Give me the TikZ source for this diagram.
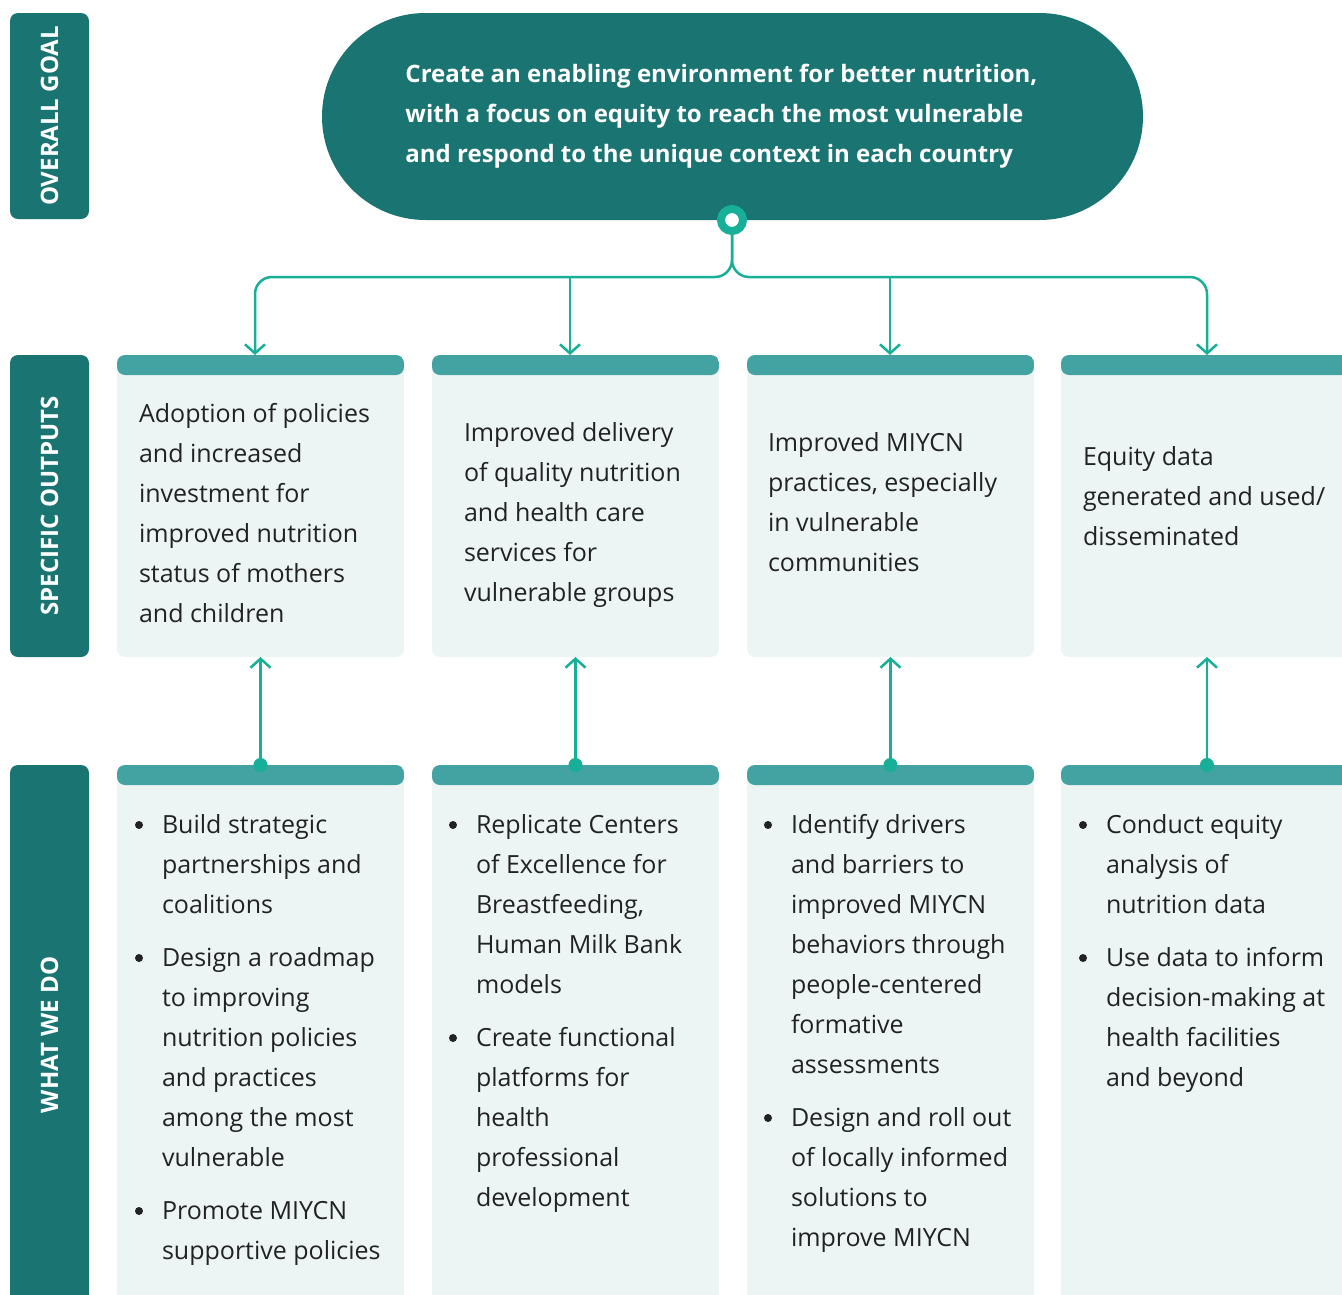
\documentclass[tikz,border=0pt]{standalone}
\usepackage{fontspec}
\setmainfont{Open Sans}
\usetikzlibrary{arrows.meta}
\definecolor{dark}{HTML}{1A7472}
\definecolor{head}{HTML}{42A3A2}
\definecolor{body}{HTML}{EDF5F4}
\definecolor{conn}{HTML}{17AF97}
\definecolor{ink}{HTML}{222222}
\tikzset{
  side/.style={fill=dark, rounded corners=8pt, rotate=90, minimum height=79pt, inner sep=0pt, outer sep=0pt,
    text=white, font=\bfseries\fontsize{24}{24}\selectfont},
  card/.style={fill=body, rounded corners=8pt, minimum width=287pt, inner sep=0pt, outer sep=0pt, anchor=north west,
    path picture={\fill[head] (path picture bounding box.north west) rectangle ([yshift=-20pt]path picture bounding box.north east);}},
  txt/.style={anchor=north west, inner sep=0pt, outer sep=0pt, align=left, text=ink, font=\fontsize{25}{40}\selectfont},
  cn/.style={draw=conn, line width=2.5pt},
  tip/.style={-{Straight Barb[length=9pt,width=20pt]}},
  bulletdot/.style={fill=ink},
}
\begin{document}
\begin{tikzpicture}[x=1pt,y=-1pt]
\useasboundingbox (0,0) rectangle (1342,1294);
\clip (0,0) rectangle (1342,1294);

% side labels
\node[side, minimum width=206pt] (s1) at (49.5,116) {OVERALL GOAL};
\node[side, minimum width=302pt] (s2) at (49.5,506) {SPECIFIC OUTPUTS};
\node[side, minimum width=540pt] (s3) at (49.5,1035) {WHAT WE DO};

% goal
\node[fill=dark, rounded corners=103.5pt, minimum width=821pt, minimum height=207pt, inner sep=0pt, outer sep=0pt,
  text=white, align=left, font=\bfseries\fontsize{24}{40}\selectfont] (goal) at (732.5,116.5)
  {Create an enabling environment for better nutrition,\hspace*{22pt}\\with a focus on equity to reach the most vulnerable\\and respond to the unique context in each country};
\node[circle, draw=conn, line width=8pt, fill=white, minimum size=22pt, inner sep=0pt] (hub) at (732,220) {};

% output cards
\node[card, minimum height=302pt] (o1) at (117,355) {};
\node[card, minimum height=302pt] (o2) at (432,355) {};
\node[card, minimum height=302pt] (o3) at (747,355) {};
\node[card, minimum height=302pt, minimum width=292pt] (o4) at (1061,355) {};

% what we do cards
\node[card, minimum height=560pt] (w1) at (117,765) {};
\node[card, minimum height=560pt] (w2) at (432,765) {};
\node[card, minimum height=560pt] (w3) at (747,765) {};
\node[card, minimum height=560pt, minimum width=292pt] (w4) at (1061,765) {};

% connectors from goal
\coordinate (j1) at (255,277);
\coordinate (j2) at (570,277);
\coordinate (j3) at (890,277);
\coordinate (j4) at (1207,277);
\draw[cn, tip, rounded corners=17pt] (hub.south) |- (j1) -- (j1 |- o1.north);
\draw[cn, tip, rounded corners=17pt] (hub.south) |- (j4) -- (j4 |- o4.north);
\draw[cn, tip] (j2) -- (j2 |- o2.north);
\draw[cn, tip] (j3) -- (j3 |- o3.north);

% connectors between rows
\foreach \i in {1,2,3,4}{
  \draw[cn, {Circle[length=14pt,width=14pt]}-{Straight Barb[length=9pt,width=20pt]}] ([yshift=-7pt]w\i.north) -- (o\i.south);
}

% output texts
\node[txt] (t1) at (139,394) {\strut Adoption of policies\\and increased\\investment for\\improved nutrition\\status of mothers\\and children};
\node[txt] (t2) at (464,413) {\strut Improved delivery\\of quality nutrition\\and health care\\services for\\vulnerable groups};
\node[txt] (t3) at (768,423) {\strut Improved MIYCN\\practices, especially\\in vulnerable\\communities};
\node[txt] (t4) at (1083,437) {\strut Equity data\\generated and used/\\disseminated};

% what we do texts
\node[txt] (a1) at (162,805) {\strut Build strategic\\partnerships and\\coalitions};
\node[txt] (a2) at (162,938) {\strut Design a roadmap\\to improving\\nutrition policies\\and practices\\among the most\\vulnerable};
\node[txt] (a3) at (162,1191) {\strut Promote MIYCN\\supportive policies};

\node[txt] (b1) at (476,805) {\strut Replicate Centers\\of Excellence for\\Breastfeeding,\\Human Milk Bank\\models};
\node[txt] (b2) at (476,1018) {\strut Create functional\\platforms for\\health\\professional\\development};

\node[txt] (c1) at (791,805) {\strut Identify drivers\\and barriers to\\improved MIYCN\\behaviors through\\people-centered\\formative\\assessments};
\node[txt] (c2) at (791,1098) {\strut Design and roll out\\of locally informed\\solutions to\\improve MIYCN};

\node[txt] (d1) at (1106,805) {\strut Conduct equity\\analysis of\\nutrition data};
\node[txt] (d2) at (1106,938) {\strut Use data to inform\\decision-making at\\health facilities\\and beyond};

% bullets
\foreach \n in {a1,a2,a3,b1,b2,c1,c2,d1,d2}{
  \fill[bulletdot] ([xshift=-23pt,yshift=-20pt]\n.north west) circle (4pt);
}
\end{tikzpicture}
\end{document}
